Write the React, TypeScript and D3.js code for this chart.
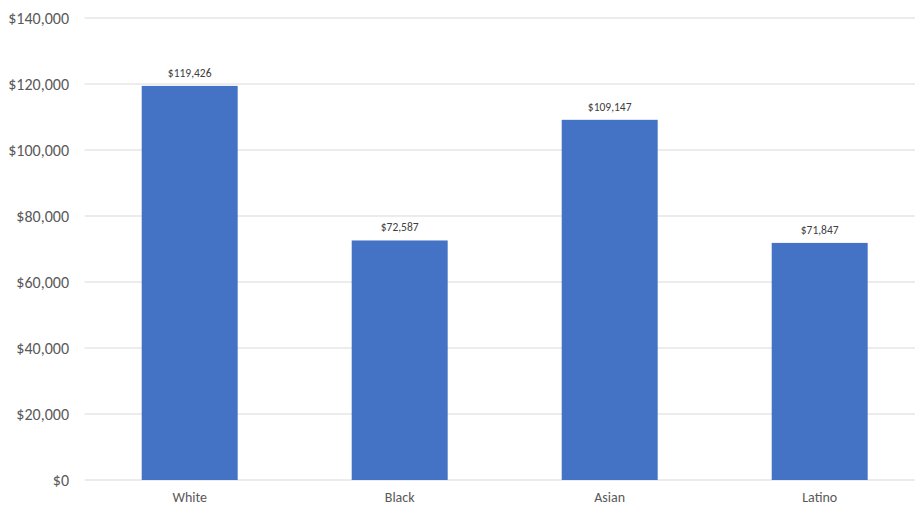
import React from "react";
import * as d3 from "d3";

const categories = ["White", "Black", "Asian", "Latino"];
const values = [119426, 72587, 109147, 71847];
const yTicks = [0, 20000, 40000, 60000, 80000, 100000, 120000, 140000];

export default function App() {
  const W = 915, H = 506;
  const x0 = 84.7, plotW = 840;
  const y = d3.scaleLinear().domain([0, 140000]).range([480, 18]);
  const x = d3.scaleBand().domain(categories).range([x0, x0 + plotW]).paddingInner(0.543).paddingOuter(0.2715);
  const fmt = d3.format("$,.0f");
  const font = "Calibri, Carlito, 'Open Sans', 'Liberation Sans', sans-serif";
  return (
    <svg width={W} height={H} style={{ position: "absolute", left: 0, top: 0, background: "#fff" }} fontFamily={font}>
      {yTicks.map((t) => (
        <g key={t}>
          <line x1={x0} x2={W} y1={y(t)} y2={y(t)} stroke="#d9d9d9" strokeWidth={1} />
          <text x={69} y={y(t)} dy="0.35em" textAnchor="end" fontSize={16} fill="#595959">{fmt(t)}</text>
        </g>
      ))}
      {categories.map((c, i) => (
        <g key={c}>
          <rect x={x(c)} y={y(values[i])} width={x.bandwidth()} height={y(0) - y(values[i])} fill="#4472C4" />
          <text x={(x(c) as number) + x.bandwidth() / 2} y={y(values[i]) - 9} textAnchor="middle" fontSize={11.5} fill="#404040">{fmt(values[i])}</text>
          <text x={(x(c) as number) + x.bandwidth() / 2} y={502} textAnchor="middle" fontSize={14} fill="#595959">{c}</text>
        </g>
      ))}
    </svg>
  );
}
